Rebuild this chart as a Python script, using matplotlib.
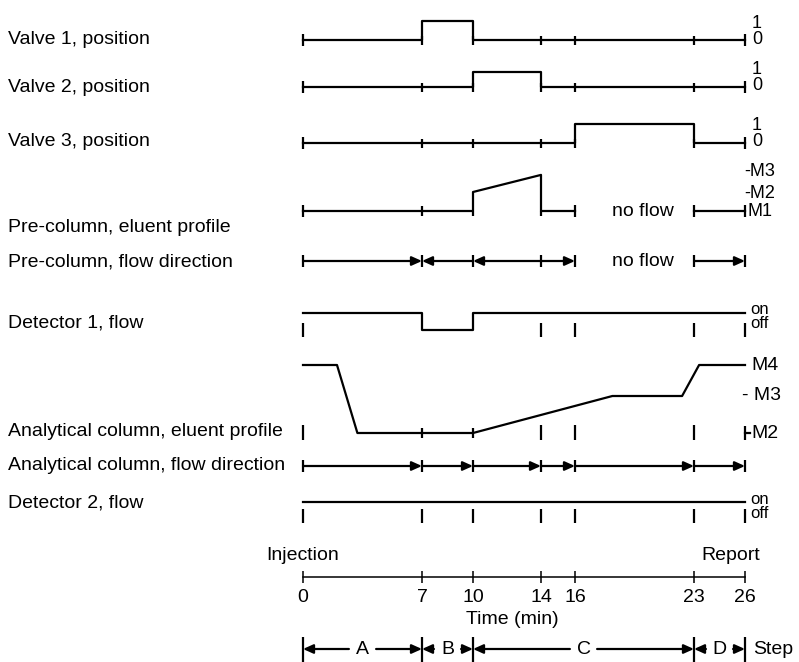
import numpy as np
import matplotlib.pyplot as plt
from matplotlib.patches import FancyArrowPatch

plt.rcParams['font.family'] = ['Liberation Sans', 'DejaVu Sans']

# event times (min)
times = [0, 7, 10, 14, 16, 23, 26]

# on/off states for each interval between the event times
valve1 = [0, 1, 0, 0, 0, 0]
valve2 = [0, 0, 1, 0, 0, 0]
valve3 = [0, 0, 0, 0, 1, 0]
detector1 = [1, 0, 1, 1, 1, 1]
detector2 = [1, 1, 1, 1, 1, 1]

# pre-column eluent profile (M level)
pre_t = [0, 10, 10, 14, 14, 16]
pre_m = [1, 1, 2, 2.9, 1, 1]
pre_t2 = [23, 26]
pre_m2 = [1, 1]

# flow directions (start -> end)
pre_flow = [(0, 7), (10, 7), (14, 10), (14, 16), (23, 26)]
ana_flow = [(0, 7), (7, 10), (10, 14), (14, 16), (16, 23), (23, 26)]

# analytical column eluent profile (M level)
ana_t = [0, 2, 3.2, 10, 18.2, 22.3, 23.3, 26]
ana_m = [4, 4, 2, 2, 3, 3, 4, 4]

steps = ['A', 'B', 'C', 'D']
step_edges = [0, 7, 10, 23, 26]

row_labels = ['Valve 1, position', 'Valve 2, position', 'Valve 3, position',
              'Pre-column, eluent profile', 'Pre-column, flow direction',
              'Detector 1, flow', 'Analytical column, eluent profile',
              'Analytical column, flow direction', 'Detector 2, flow']
row_label_y = [40, 88, 141, 228, 262, 323, 431, 466, 503]

W, H = 799, 662
fig = plt.figure(figsize=(W / 100, H / 100), dpi=100)
ax = fig.add_axes([0, 0, 1, 1])
x0pix, ppm = 303, 17.0  # pixel of t=0, pixels per minute
ax.set_xlim(-x0pix / ppm, (W - x0pix) / ppm)
ax.set_ylim(H, 0)
ax.axis('off')

LW = 1.6
FS = 14
SFS = 12
k = dict(color='black', lw=LW)


def tick(t, ya, yb, lw=LW):
    ax.vlines(t, ya, yb, color='black', lw=lw)


def arrow(ta, tb, y):
    ax.add_patch(FancyArrowPatch((ta, y), (tb, y),
                 arrowstyle='-|>,head_length=0.6,head_width=0.27',
                 mutation_scale=10, color='black', lw=LW,
                 shrinkA=0, shrinkB=0))


tpix = 1 / ppm  # one pixel in minutes

for lab, y in zip(row_labels, row_label_y):
    ax.text(8 * tpix - x0pix / ppm, y, lab, fontsize=FS, va='center', ha='left')

# valves
for states, base, hgt in [(valve1, 40, 19), (valve2, 87, 15), (valve3, 143, 19)]:
    ys = [base - s * hgt for s in states]
    ax.step(times, ys + [ys[-1]], where='post', **k)
    tick(times[0], base - 6, base + 6)
    tick(times[-1], base - 6, base + 6)
    for t in times[1:-1]:
        tick(t, base - 4, base + 5)
    ax.text(26.4, base - 17, '1', fontsize=13, va='center', ha='left')
    ax.text(26.4, base - 1, '0', fontsize=13, va='center', ha='left')

# pre-column eluent profile
pre_base, pre_step = 211, 19
py = [pre_base - (m - 1) * pre_step for m in pre_m]
ax.plot(pre_t, py, **k)
ax.plot(pre_t2, [pre_base - (m - 1) * pre_step for m in pre_m2], **k)
for t in [0, 16, 23, 26]:
    tick(t, pre_base - 6, pre_base + 6)
tick(7, pre_base - 5, pre_base + 5)
tick(10, pre_base, pre_base + 5)
tick(14, pre_base, pre_base + 5)
ax.text(20, pre_base, 'no flow', fontsize=FS, va='center', ha='center')
ax.text(26.15, pre_base + 1, 'M1', fontsize=SFS + 1, va='center', ha='left')
ax.text(25.95, 194, '-M2', fontsize=SFS + 1, va='center', ha='left')
ax.text(25.95, 171, '-M3', fontsize=SFS + 1, va='center', ha='left')

# pre-column flow direction
pf_y = 261
for ta, tb in pre_flow:
    arrow(ta, tb, pf_y)
for t in [0, 7, 10, 14, 16, 23, 26]:
    tick(t, pf_y - 6, pf_y + 6)
ax.text(20, pf_y, 'no flow', fontsize=FS, va='center', ha='center')

# detector 1
d1_on, d1_off = 313, 330
ys = [d1_off - s * (d1_off - d1_on) for s in detector1]
ax.step(times, ys + [ys[-1]], where='post', **k)
for t, s_prev, s_next in zip(times, [None] + detector1, detector1 + [None]):
    if s_prev is None or s_next is None or s_prev == s_next:
        tick(t, 323, 337)
ax.text(26.3, 310, 'on', fontsize=SFS, va='center', ha='left')
ax.text(26.3, 324, 'off', fontsize=SFS, va='center', ha='left')

# analytical column eluent profile
ana_lvl = [2, 3, 4]
ana_pix = [433, 396, 365]
ay = np.interp(ana_m, ana_lvl, ana_pix)
ax.plot(ana_t, ay, **k)
for t in [0, 14, 16, 23]:
    tick(t, 425, 440)
for t in [7, 10]:
    tick(t, 428, 438)
tick(26, 426, 440)
ax.plot([26, 26 + 5 * tpix], [433, 433], **k)
ax.text(26.4, 365, 'M4', fontsize=FS, va='center', ha='left')
ax.text(25.8, 396, '- M3', fontsize=FS, va='center', ha='left')
ax.text(26.4, 433, 'M2', fontsize=FS, va='center', ha='left')

# analytical column flow direction
af_y = 466
for ta, tb in ana_flow:
    arrow(ta, tb, af_y)
for t in times:
    tick(t, af_y - 6, af_y + 6)

# detector 2
d2_on = 502
ax.step(times, [d2_on] * len(times), where='post', **k)
for t in times:
    tick(t, 509, 523)
ax.text(26.3, 499, 'on', fontsize=SFS, va='center', ha='left')
ax.text(26.3, 514, 'off', fontsize=SFS, va='center', ha='left')

# time axis
tx_y = 577
ax.plot([times[0], times[-1]], [tx_y, tx_y], color='black', lw=1.1)
for t in times:
    tick(t, tx_y - 6, tx_y + 6, lw=1.1)
    ax.text(t, 598, str(t), fontsize=FS, va='center', ha='center')
ax.text(0, 555, 'Injection', fontsize=FS, va='center', ha='center')
ax.text(26.9, 555, 'Report', fontsize=FS, va='center', ha='right')
ax.text(12.3, 620, 'Time (min)', fontsize=FS, va='center', ha='center')

# steps
st_y = 649
gap = 0.8
for t in step_edges:
    tick(t, 637, 662)
for lab, a, b in zip(steps, step_edges[:-1], step_edges[1:]):
    mid = (a + b) / 2
    arrow(mid - gap, a, st_y)
    arrow(mid + gap, b, st_y)
    ax.text(mid, st_y, lab, fontsize=FS, va='center', ha='center')
ax.text(26.45, st_y, 'Step', fontsize=FS, va='center', ha='left')

fig.savefig('out.png', dpi=100)
